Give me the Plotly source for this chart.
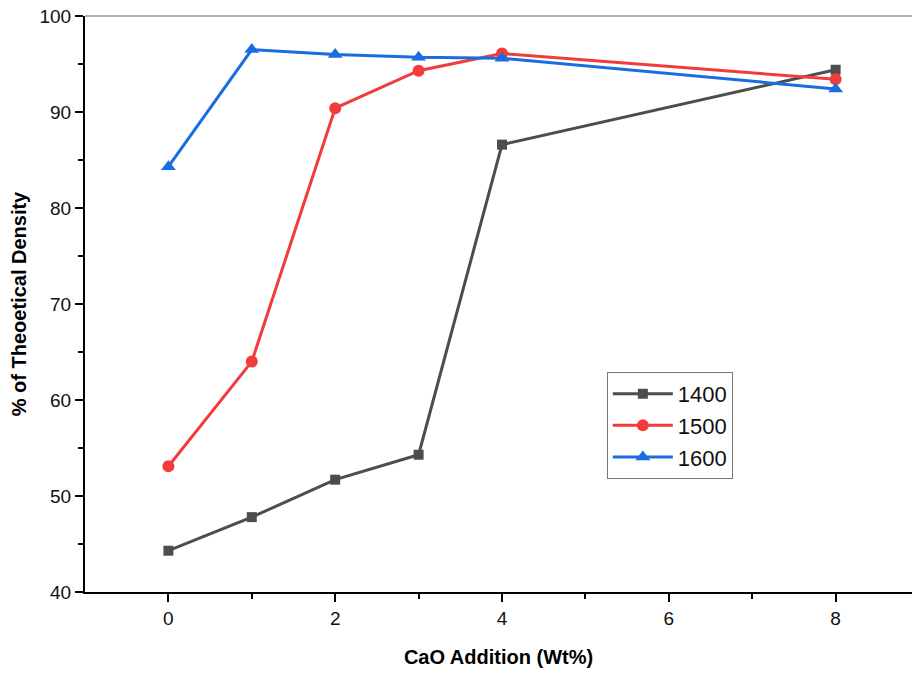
import plotly.graph_objects as go

cao = [0, 1, 2, 3, 4, 8]
d1400 = [44.3, 47.8, 51.7, 54.3, 86.6, 94.4]
d1500 = [53.1, 64.0, 90.4, 94.3, 96.1, 93.4]
d1600 = [84.3, 96.5, 96.0, 95.7, 95.6, 92.4]
names = ["1400", "1500", "1600"]
colors = ["#4d4d4d", "#f23b3b", "#1a6de0"]
symbols = ["square", "circle", "triangle-up"]
sizes = [10, 12, 13]

fig = go.Figure()
for name, ys, c, s, sz in zip(names, [d1400, d1500, d1600], colors, symbols, sizes):
    fig.add_trace(go.Scatter(x=cao, y=ys, name=name, mode="lines+markers",
                             line=dict(color=c, width=3),
                             marker=dict(symbol=s, size=sz, color=c)))

font = "Liberation Sans, Arial, sans-serif"
fig.update_layout(
    width=912, height=675,
    margin=dict(l=85, r=0, t=16, b=83),
    plot_bgcolor="white", paper_bgcolor="white",
    font=dict(family=font, size=19, color="black"),
    showlegend=True,
    legend=dict(x=0.631, y=0.382, xanchor="left", yanchor="top",
                bordercolor="#777777", borderwidth=1, bgcolor="white",
                font=dict(size=22, family=font, color="#111111"),
                itemwidth=60, tracegroupgap=0),
)
fig.update_xaxes(range=[-1, 8.916], tickvals=[0, 2, 4, 6, 8],
                 ticks="outside", ticklen=8, tickwidth=2, tickcolor="black",
                 minor=dict(tickvals=[1, 3, 5, 7], ticks="outside", ticklen=5, tickwidth=2, tickcolor="black"),
                 showline=True, linecolor="black", linewidth=2, showgrid=False, zeroline=False,
                 tickfont=dict(size=19, color="#111111"), ticklabelstandoff=0,
                 title=dict(text="<b>CaO Addition (Wt%)</b>", font=dict(size=20), standoff=22))
fig.update_yaxes(range=[40, 100], tickvals=[40, 50, 60, 70, 80, 90, 100],
                 ticks="outside", ticklen=8, tickwidth=2, tickcolor="black",
                 minor=dict(tickvals=[45, 55, 65, 75, 85, 95], ticks="outside", ticklen=5, tickwidth=2, tickcolor="black"),
                 showline=True, linecolor="black", linewidth=2, showgrid=False, zeroline=False,
                 tickfont=dict(size=19, color="#111111"), ticklabelstandoff=0,
                 title=dict(text="<b>% of Theoetical Density</b>", font=dict(size=20), standoff=7))
fig.add_shape(type="line", xref="paper", yref="paper", x0=0, x1=1, y0=1, y1=1,
              line=dict(color="#999999", width=1.5))
fig.write_html("out.html")
